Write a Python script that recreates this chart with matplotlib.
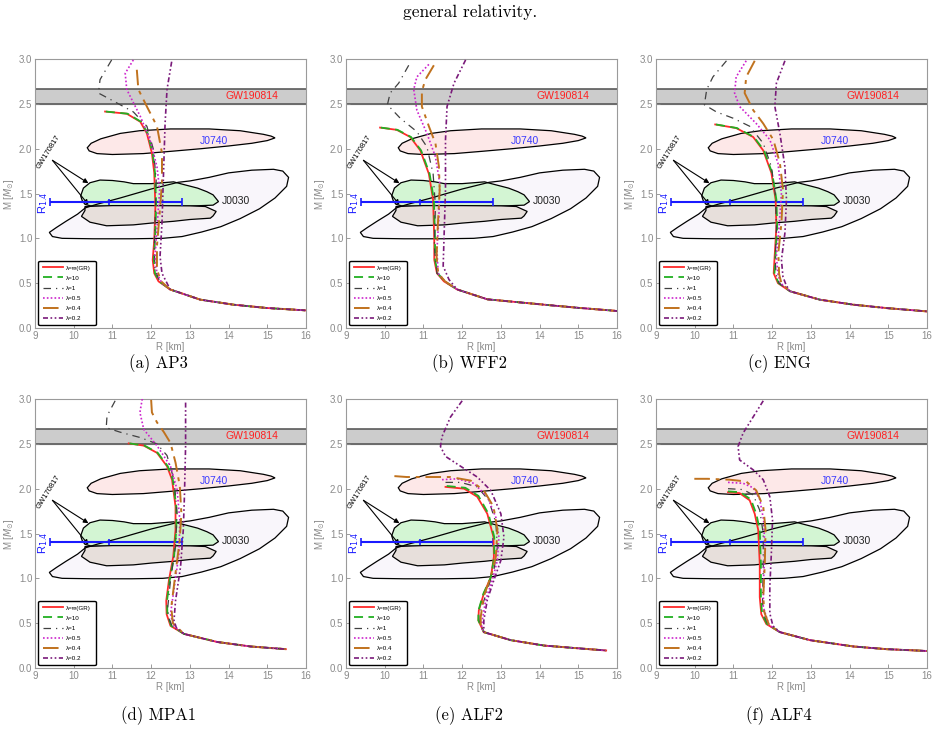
import matplotlib
matplotlib.use("Agg")
import matplotlib.pyplot as plt
from matplotlib.patches import Polygon

# ---------------- data ----------------
PANEL_NAMES = ["AP3", "WFF2", "ENG", "MPA1", "ALF2", "ALF4"]
CAPTIONS = ["(a) AP3", "(b) WFF2", "(c) ENG", "(d) MPA1", "(e) ALF2", "(f) ALF4"]
LAMBDA_LABELS = ["λ=∞(GR)", "λ=10", "λ=1", "λ=0.5", "λ=0.4", "λ=0.2"]

# observational constraints (R [km], M [Msun])
GW190814_BAND = (2.50, 2.67)
J0740_R = [10.35, 10.45, 10.7, 11.2, 11.7, 12.5, 13.5, 14.3, 14.9, 15.1, 15.2, 15.0, 14.6, 14.0, 13.3, 12.5, 11.8, 11.0, 10.6, 10.4]
J0740_M = [2.01, 2.06, 2.11, 2.17, 2.20, 2.22, 2.22, 2.20, 2.16, 2.14, 2.12, 2.09, 2.06, 2.03, 2.00, 1.97, 1.945, 1.935, 1.945, 1.975]
J0030_R = [9.37, 9.45, 9.7, 10.5, 11.5, 12.3, 12.8, 13.3, 13.8, 14.3, 14.8, 15.2, 15.5, 15.55, 15.4, 15.16, 14.6, 14.0, 13.5, 13.0, 12.7, 12.0, 11.2, 10.6, 10.3, 10.1, 9.8, 9.55]
J0030_M = [1.066, 1.02, 1.0, 0.995, 0.995, 1.0, 1.02, 1.07, 1.13, 1.22, 1.33, 1.45, 1.58, 1.68, 1.75, 1.77, 1.76, 1.73, 1.68, 1.64, 1.625, 1.55, 1.45, 1.38, 1.34, 1.27, 1.19, 1.12]
GW170817_UP_R = [10.18, 10.25, 10.42, 10.68, 11.0, 11.3, 11.54, 12.0, 12.3, 12.58, 12.84, 13.2, 13.44, 13.6, 13.74, 13.6, 13.0, 12.0, 11.0, 10.45, 10.29, 10.22]
GW170817_UP_M = [1.474, 1.56, 1.62, 1.65, 1.645, 1.63, 1.61, 1.61, 1.62, 1.63, 1.60, 1.56, 1.52, 1.485, 1.41, 1.37, 1.36, 1.358, 1.358, 1.36, 1.38, 1.42]
GW170817_LO_R = [10.29, 11.0, 12.0, 13.0, 13.4, 13.68, 13.6, 13.53, 13.0, 12.58, 12.0, 11.54, 10.85, 10.42, 10.2, 10.29]
GW170817_LO_M = [1.355, 1.365, 1.365, 1.362, 1.355, 1.30, 1.25, 1.225, 1.21, 1.19, 1.17, 1.15, 1.14, 1.18, 1.245, 1.31]
R14_CENTER = 10.9
R14_LOW = 9.4
R14_HIGH = 12.8
R14_MASS = 1.4

# mass-radius curves: order GR, 10, 1, 0.5, 0.4, 0.2
AP3_TAIL_R = [12.49, 13.27, 14.13, 14.99, 15.98]
AP3_TAIL_M = [0.43, 0.316, 0.26, 0.223, 0.197]
AP3_R = [
    [10.81, 11.37, 11.72, 11.89, 12.02, 12.08, 12.11, 12.08, 12.04, 12.08, 12.19],
    [10.83, 11.39, 11.74, 11.91, 12.04, 12.10, 12.13, 12.10, 12.07, 12.10, 12.21],
    [10.98, 10.68, 10.64, 11.03, 11.54, 11.89, 12.06, 12.13, 12.11, 12.08, 12.10, 12.22],
    [11.54, 11.33, 11.37, 11.72, 11.97, 12.15, 12.22, 12.16, 12.10, 12.15, 12.28],
    [11.63, 11.67, 11.89, 12.15, 12.28, 12.28, 12.22, 12.15, 12.15, 12.26],
    [12.53, 12.41, 12.36, 12.32, 12.28, 12.23, 12.28, 12.41],
]
AP3_M = [
    [2.414, 2.39, 2.30, 2.17, 1.95, 1.73, 1.355, 0.98, 0.76, 0.61, 0.52],
    [2.414, 2.39, 2.30, 2.17, 1.95, 1.73, 1.355, 0.98, 0.76, 0.61, 0.52],
    [2.99, 2.77, 2.62, 2.53, 2.41, 2.25, 1.99, 1.65, 1.28, 0.91, 0.65, 0.52],
    [2.99, 2.84, 2.66, 2.36, 2.10, 1.80, 1.54, 1.17, 0.80, 0.61, 0.50],
    [2.88, 2.66, 2.47, 2.25, 1.95, 1.62, 1.28, 0.91, 0.65, 0.52],
    [2.97, 2.66, 2.28, 1.73, 1.17, 0.80, 0.61, 0.50],
]

WFF2_TAIL_R = [11.87, 12.65, 14.12, 15.0, 16.0]
WFF2_TAIL_M = [0.43, 0.32, 0.26, 0.225, 0.19]
WFF2_R = [
    [9.88, 10.31, 10.66, 10.92, 11.14, 11.25, 11.28, 11.28, 11.35, 11.53],
    [9.90, 10.33, 10.68, 10.94, 11.16, 11.27, 11.30, 11.30, 11.37, 11.55],
    [10.62, 10.36, 10.14, 10.07, 10.40, 10.83, 11.09, 11.25, 11.31, 11.28, 11.35, 11.55],
    [11.14, 10.83, 10.75, 10.83, 11.09, 11.31, 11.42, 11.40, 11.35, 11.38, 11.56],
    [11.27, 11.05, 10.96, 10.96, 11.14, 11.31, 11.40, 11.42, 11.37, 11.34, 11.38, 11.56],
    [12.09, 11.79, 11.61, 11.57, 11.57, 11.53, 11.51, 11.66],
]
WFF2_M = [
    [2.235, 2.21, 2.13, 1.98, 1.72, 1.43, 0.98, 0.76, 0.61, 0.52],
    [2.235, 2.21, 2.13, 1.98, 1.72, 1.43, 0.98, 0.76, 0.61, 0.52],
    [2.93, 2.73, 2.62, 2.49, 2.34, 2.19, 2.02, 1.72, 1.36, 0.91, 0.61, 0.52],
    [2.94, 2.80, 2.66, 2.43, 2.17, 1.91, 1.62, 1.24, 0.87, 0.61, 0.52],
    [2.93, 2.77, 2.64, 2.47, 2.25, 2.06, 1.80, 1.54, 1.13, 0.80, 0.61, 0.52],
    [2.99, 2.73, 2.47, 2.10, 1.54, 0.98, 0.69, 0.54],
]

ENG_TAIL_R = [12.46, 13.23, 14.10, 14.96, 16.0]
ENG_TAIL_M = [0.41, 0.316, 0.26, 0.222, 0.185]
ENG_R = [
    [10.53, 11.07, 11.51, 11.77, 11.98, 12.09, 12.11, 12.07, 12.04, 12.15],
    [10.55, 11.09, 11.53, 11.79, 12.00, 12.11, 12.13, 12.09, 12.06, 12.17],
    [10.82, 10.47, 10.31, 10.25, 10.56, 10.99, 11.42, 11.77, 11.98, 12.09, 12.11, 12.08, 12.10, 12.18],
    [11.33, 11.07, 11.03, 11.16, 11.59, 11.94, 12.15, 12.24, 12.18, 12.11, 12.15, 12.22],
    [11.55, 11.33, 11.29, 11.51, 11.77, 12.03, 12.20, 12.28, 12.24, 12.16, 12.18, 12.24],
    [12.33, 12.11, 12.07, 12.20, 12.33, 12.37, 12.33, 12.24, 12.28, 12.36],
]
ENG_M = [
    [2.27, 2.23, 2.13, 1.98, 1.73, 1.43, 1.13, 0.84, 0.61, 0.50],
    [2.27, 2.23, 2.13, 1.98, 1.73, 1.43, 1.13, 0.84, 0.61, 0.50],
    [2.98, 2.80, 2.66, 2.49, 2.41, 2.34, 2.25, 2.06, 1.80, 1.47, 1.10, 0.76, 0.60, 0.50],
    [2.98, 2.80, 2.62, 2.47, 2.28, 2.10, 1.84, 1.50, 1.13, 0.80, 0.60, 0.50],
    [2.98, 2.80, 2.62, 2.43, 2.28, 2.10, 1.84, 1.54, 1.17, 0.84, 0.60, 0.50],
    [2.98, 2.73, 2.47, 2.17, 1.80, 1.43, 1.06, 0.76, 0.57, 0.48],
]

MPA1_TAIL_R = [12.85, 13.71, 14.57, 15.48]
MPA1_TAIL_M = [0.38, 0.29, 0.24, 0.21]
MPA1_R = [
    [11.42, 11.81, 12.15, 12.41, 12.54, 12.63, 12.63, 12.57, 12.46, 12.39, 12.40, 12.50],
    [11.44, 11.83, 12.17, 12.43, 12.56, 12.65, 12.65, 12.59, 12.48, 12.41, 12.42, 12.52],
    [11.07, 10.86, 10.84, 11.20, 11.72, 12.15, 12.41, 12.59, 12.67, 12.63, 12.50, 12.43, 12.45, 12.55],
    [11.77, 11.71, 11.81, 12.15, 12.50, 12.67, 12.74, 12.72, 12.60, 12.50, 12.58],
    [12.0, 12.02, 12.15, 12.33, 12.50, 12.63, 12.74, 12.78, 12.74, 12.63, 12.52, 12.56],
    [12.89, 12.89, 12.86, 12.83, 12.76, 12.63, 12.59, 12.65],
]
MPA1_M = [
    [2.505, 2.48, 2.40, 2.25, 2.10, 1.80, 1.54, 1.24, 0.98, 0.75, 0.60, 0.47],
    [2.505, 2.48, 2.40, 2.25, 2.10, 1.80, 1.54, 1.24, 0.98, 0.75, 0.60, 0.47],
    [2.98, 2.81, 2.68, 2.63, 2.57, 2.50, 2.37, 2.10, 1.73, 1.36, 0.98, 0.68, 0.56, 0.46],
    [3.0, 2.85, 2.66, 2.48, 2.25, 1.99, 1.65, 1.28, 0.91, 0.60, 0.47],
    [2.99, 2.85, 2.74, 2.63, 2.51, 2.29, 2.03, 1.73, 1.43, 1.06, 0.68, 0.50],
    [2.96, 2.48, 1.92, 1.54, 1.13, 0.75, 0.53, 0.45],
]

ALF2_TAIL_R = [12.56, 13.26, 14.12, 14.99, 15.72]
ALF2_TAIL_M = [0.40, 0.31, 0.25, 0.22, 0.195]
ALF2_R = [
    [11.57, 12.05, 12.39, 12.65, 12.81, 12.82, 12.74, 12.56, 12.43, 12.42],
    [11.60, 12.08, 12.42, 12.68, 12.83, 12.83, 12.74, 12.55, 12.42, 12.42],
    [11.57, 11.96, 12.39, 12.69, 12.87, 12.91, 12.82, 12.65, 12.48, 12.46],
    [11.48, 11.87, 12.30, 12.65, 12.87, 12.95, 12.91, 12.78, 12.61, 12.52, 12.50],
    [10.25, 10.57, 11.09, 11.70, 12.22, 12.56, 12.81, 12.91, 12.87, 12.74, 12.56, 12.48, 12.48],
    [12.0, 11.70, 11.48, 11.44, 11.57, 11.96, 12.39, 12.74, 13.0, 13.08, 13.0, 12.82, 12.65, 12.56, 12.56],
]
ALF2_M = [
    [2.02, 2.0, 1.91, 1.72, 1.46, 1.24, 1.01, 0.83, 0.64, 0.53],
    [2.03, 2.01, 1.92, 1.72, 1.46, 1.24, 1.01, 0.83, 0.64, 0.53],
    [2.07, 2.07, 2.02, 1.87, 1.62, 1.35, 1.09, 0.87, 0.64, 0.52],
    [2.10, 2.11, 2.06, 1.91, 1.68, 1.46, 1.20, 0.98, 0.76, 0.53, 0.45],
    [2.14, 2.13, 2.13, 2.13, 2.09, 1.98, 1.80, 1.54, 1.24, 1.02, 0.80, 0.57, 0.48],
    [2.98, 2.80, 2.58, 2.47, 2.36, 2.25, 2.13, 1.98, 1.72, 1.46, 1.20, 0.98, 0.76, 0.53, 0.45],
]

ALF4_TAIL_R = [12.20, 12.98, 14.10, 14.96, 16.0]
ALF4_TAIL_M = [0.40, 0.31, 0.24, 0.21, 0.19]
ALF4_R = [
    [10.86, 11.16, 11.42, 11.55, 11.64, 11.68, 11.68, 11.72, 11.85],
    [10.86, 11.18, 11.45, 11.59, 11.68, 11.71, 11.71, 11.74, 11.87],
    [10.86, 11.25, 11.51, 11.68, 11.77, 11.77, 11.75, 11.78, 11.90],
    [10.86, 11.25, 11.51, 11.68, 11.78, 11.81, 11.78, 11.77, 11.92],
    [9.99, 10.34, 10.90, 11.33, 11.59, 11.77, 11.83, 11.81, 11.77, 11.80, 11.92],
    [11.77, 11.51, 11.25, 11.12, 11.16, 11.51, 11.77, 11.94, 12.01, 11.98, 11.94, 11.94, 12.02],
]
ALF4_M = [
    [1.96, 1.95, 1.87, 1.72, 1.54, 1.16, 0.79, 0.60, 0.49],
    [1.97, 1.96, 1.88, 1.72, 1.54, 1.16, 0.79, 0.60, 0.49],
    [2.0, 1.99, 1.93, 1.76, 1.50, 1.13, 0.75, 0.60, 0.48],
    [2.07, 2.06, 2.01, 1.88, 1.65, 1.35, 0.98, 0.68, 0.48],
    [2.11, 2.11, 2.10, 2.08, 1.98, 1.80, 1.54, 1.16, 0.79, 0.62, 0.48],
    [2.98, 2.80, 2.62, 2.47, 2.32, 2.21, 2.10, 1.91, 1.65, 1.28, 0.91, 0.61, 0.47],
]

PANEL_R = [AP3_R, WFF2_R, ENG_R, MPA1_R, ALF2_R, ALF4_R]
PANEL_M = [AP3_M, WFF2_M, ENG_M, MPA1_M, ALF2_M, ALF4_M]
PANEL_TAIL_R = [AP3_TAIL_R, WFF2_TAIL_R, ENG_TAIL_R, MPA1_TAIL_R, ALF2_TAIL_R, ALF4_TAIL_R]
PANEL_TAIL_M = [AP3_TAIL_M, WFF2_TAIL_M, ENG_TAIL_M, MPA1_TAIL_M, ALF2_TAIL_M, ALF4_TAIL_M]

X_TICKS = [9, 10, 11, 12, 13, 14, 15, 16]
Y_TICKS = [0.0, 0.5, 1.0, 1.5, 2.0, 2.5, 3.0]

# ---------------- styles ----------------
STYLES = [
    dict(color="#ff2a2a", lw=1.3, linestyle="-"),
    dict(color="#22b022", lw=1.3, linestyle=(0, (5, 3))),
    dict(color="#404040", lw=0.9, linestyle=(0, (6, 4, 1, 4))),
    dict(color="#cc22cc", lw=1.2, linestyle=(0, (1, 1.3))),
    dict(color="#c0721e", lw=1.4, linestyle=(0, (8, 3, 2, 3))),
    dict(color="#7a1a7a", lw=1.2, linestyle=(0, (3, 1.5, 1, 1.5, 1, 1.5))),
]

GRAY = "#8a8a8a"
SANS = ["Liberation Sans", "DejaVu Sans"]
plt.rcParams["font.family"] = SANS
plt.rcParams["mathtext.fontset"] = "dejavusans"

fig = plt.figure(figsize=(9.38, 7.51), dpi=100)

W, H = 938.0, 751.0
lefts = [35, 346, 656]
tops = [59, 399]
aw, ah = 271, 269

fig.text(470 / W, 1 - 12 / H, "general relativity.", ha="center", va="center",
         family="cmr10", fontsize=12.5)

for i in range(6):
    row, col = divmod(i, 3)
    x0 = lefts[col]
    y0 = tops[row]
    ax = fig.add_axes([x0 / W, 1 - (y0 + ah) / H, aw / W, ah / H])
    ax.set_xlim(9, 16)
    ax.set_ylim(0, 3)

    # GW190814 band
    ax.axhspan(GW190814_BAND[0], GW190814_BAND[1], color="#cccccc", zorder=1)
    for yv in GW190814_BAND:
        ax.axhline(yv, color="#505050", lw=1.1, zorder=1.5)
    ax.text(14.6, 2.585, "GW190814", color="#ff2020", fontsize=7.5, ha="center", va="center", zorder=2)

    # J0030 (fill first, outline later)
    j0030 = list(zip(J0030_R, J0030_M))
    ax.add_patch(Polygon(j0030, closed=True, facecolor="#f9f6fb", edgecolor="none", zorder=2))
    # J0740
    ax.add_patch(Polygon(list(zip(J0740_R, J0740_M)), closed=True, facecolor="#fde8e8",
                         edgecolor="black", lw=0.9, zorder=2))
    # GW170817 blobs
    ax.add_patch(Polygon(list(zip(GW170817_UP_R, GW170817_UP_M)), closed=True, facecolor="#d3f5d3",
                         edgecolor="black", lw=0.9, zorder=2.2))
    ax.add_patch(Polygon(list(zip(GW170817_LO_R, GW170817_LO_M)), closed=True, facecolor="#e7dfdb",
                         edgecolor="black", lw=0.9, zorder=2.3))
    ax.add_patch(Polygon(j0030, closed=True, facecolor="none", edgecolor="black", lw=0.9, zorder=2.4))

    ax.text(13.63, 2.09, "J0740", color="#3a3aff", fontsize=7.5, ha="center", va="center", zorder=2.5)
    ax.text(14.2, 1.42, "J0030", color="#202020", fontsize=7.5, ha="center", va="center", zorder=2.5)

    # GW170817 label and arrows
    ax.text(9.36, 1.96, "GW170817", rotation=58, fontsize=5.5, ha="center", va="center", zorder=3)
    for tip in [(10.38, 1.615), (10.38, 1.375)]:
        ax.annotate("", xy=tip, xytext=(9.45, 1.87),
                    arrowprops=dict(arrowstyle="-|>", color="black", lw=0.8, mutation_scale=7,
                                    shrinkA=0, shrinkB=0), zorder=3)

    # R_1.4 error bar
    ax.errorbar([R14_CENTER], [R14_MASS],
                xerr=[[R14_CENTER - R14_LOW], [R14_HIGH - R14_CENTER]],
                fmt="|", color="#1a1aff", ms=4, mew=1.2, elinewidth=1.5, capsize=3, capthick=1.2, zorder=4)
    ax.text(9.2, 1.40, "R$_{1.4}$", color="#1a1aff", rotation=90, fontsize=8, ha="center", va="center", zorder=4)

    # curves
    tr, tm = PANEL_TAIL_R[i], PANEL_TAIL_M[i]
    for k in range(6):
        rr = PANEL_R[i][k] + tr
        mm = PANEL_M[i][k] + tm
        ax.plot(rr, mm, label=LAMBDA_LABELS[k], zorder=5 + k * 0.1, **STYLES[k])

    leg = ax.legend(loc="lower left", bbox_to_anchor=(0.012, 0.01), borderaxespad=0, fontsize=4.5,
                    handlelength=3.2, labelspacing=0.75, handletextpad=0.6, borderpad=0.7,
                    fancybox=True, framealpha=1, edgecolor="black")
    leg.get_frame().set_linewidth(1.0)
    leg.set_zorder(10)

    ax.set_xticks(X_TICKS)
    ax.set_yticks(Y_TICKS)
    ax.set_yticklabels([f"{v:.1f}" for v in Y_TICKS])
    ax.tick_params(direction="in", length=3, width=0.6, colors=GRAY, labelsize=7, pad=2)
    for sp in ax.spines.values():
        sp.set_color("#9a9a9a")
        sp.set_linewidth(0.8)
    ax.set_xlabel("R [km]", color=GRAY, fontsize=7, labelpad=1)
    ax.set_ylabel(r"M [$M_{\odot}$]", color=GRAY, fontsize=7, labelpad=2)

    cap_y = 364 if row == 0 else 716
    fig.text((x0 + 123) / W, 1 - cap_y / H, CAPTIONS[i], ha="center", va="center",
             family="cmr10", fontsize=12)

fig.savefig("out.png", dpi=100)
